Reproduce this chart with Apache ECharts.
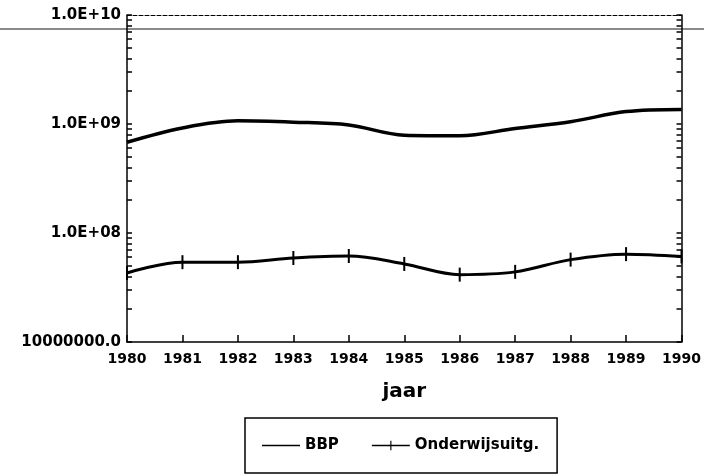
<!DOCTYPE html>
<html>
<head>
<meta charset="utf-8">
<script src="https://cdn.jsdelivr.net/npm/echarts@6/dist/echarts.min.js"></script>
<style>
html,body{margin:0;padding:0;background:#fff;}
#chart{width:704px;height:475px;}
</style>
</head>
<body>
<div id="chart"></div>
<script>
// ---- data ----
const years = [1980, 1981, 1982, 1983, 1984, 1985, 1986, 1987, 1988, 1989, 1990];
const bbp = [6.8e8, 9.2e8, 1.07e9, 1.04e9, 9.8e8, 7.9e8, 7.8e8, 9.1e8, 1.05e9, 1.30e9, 1.36e9];
const onderwijs = [4.3e7, 5.4e7, 5.4e7, 5.9e7, 6.15e7, 5.2e7, 4.15e7, 4.4e7, 5.7e7, 6.4e7, 6.1e7];
const yTickValues = [1e7, 1e8, 1e9, 1e10];
const yTickLabels = ['10000000.0', '1.0E+08', '1.0E+09', '1.0E+10'];
const seriesNames = ['BBP', 'Onderwijsuitg.'];
const xAxisTitle = 'jaar';

// minor ticks at 2..9 of every decade
const minorMult = [1, 2, 3, 4, 5, 6, 7, 8, 9];
const allTicks = [];
yTickValues.forEach((d, i) => {
  if (i < yTickValues.length - 1) minorMult.forEach(m => allTicks.push(d * m));
  else allTicks.push(d);
});

const FONT = 'DejaVu Sans';
const chart = echarts.init(document.getElementById('chart'), null, {renderer: 'canvas'});

const yBase = {
  type: 'log', logBase: 10, min: 1e7, max: 1e10,
  splitLine: {show: false},
  axisLine: {show: true, lineStyle: {color: '#000', width: 1.5}}
};

chart.setOption({
  animation: false,
  backgroundColor: '#fff',
  grid: {left: 127, right: 20, top: 15, bottom: 133, containLabel: false},
  xAxis: [{
    type: 'value', min: 1980, max: 1990, interval: 1,
    name: xAxisTitle, nameLocation: 'middle', nameGap: 40,
    nameTextStyle: {fontFamily: FONT, fontWeight: 'bold', fontSize: 20, color: '#000'},
    axisLine: {lineStyle: {color: '#000', width: 1.5}},
    axisTick: {inside: true, length: 7, lineStyle: {color: '#000', width: 1.5}},
    axisLabel: {
      margin: 10, fontFamily: FONT, fontWeight: 'bold', fontSize: 14, color: '#000',
      formatter: v => String(v)
    },
    splitLine: {show: false}
  }, {
    type: 'value', min: 1980, max: 1990, position: 'top',
    axisLine: {show: true, lineStyle: {color: '#000', width: 1, type: [4, 2]}},
    axisTick: {show: false}, axisLabel: {show: false}, splitLine: {show: false}
  }],
  yAxis: [Object.assign({}, yBase, {
    position: 'left',
    axisTick: {show: true, inside: true, length: 5, customValues: allTicks,
      lineStyle: {color: '#000', width: 1.5}},
    axisLabel: {
      show: true, margin: 6, customValues: yTickValues,
      fontFamily: FONT, fontWeight: 'bold', fontSize: 15, color: '#000',
      formatter: v => {
        const i = yTickValues.findIndex(t => Math.abs(Math.log10(t) - Math.log10(v)) < 1e-6);
        return i >= 0 ? yTickLabels[i] : '';
      }
    }
  }), Object.assign({}, yBase, {
    position: 'right',
    axisTick: {show: true, inside: true, length: 5, customValues: allTicks,
      lineStyle: {color: '#000', width: 1.5}},
    axisLabel: {show: false}
  })],
  legend: {
    left: 245, top: 418,
    orient: 'horizontal',
    padding: [20, 18, 20, 17],
    borderColor: '#000', borderWidth: 1.5,
    itemWidth: 38, itemHeight: 14, itemGap: 33,
    textStyle: {fontFamily: FONT, fontWeight: 'bold', fontSize: 15, color: '#000'},
    data: [
      {name: seriesNames[0], icon: 'path://M0 4.1H40V5.9H0Z'},
      {name: seriesNames[1], icon: 'path://M0 4.3H40V5.7H0Z M19.4 0H20.6V10H19.4Z'}
    ]
  },
  graphic: [{
    type: 'line', z: -1, silent: true,
    shape: {x1: 0, y1: 29, x2: 704, y2: 29},
    style: {stroke: '#8a8a8a', lineWidth: 2}
  }],
  series: [{
    name: seriesNames[0], type: 'line', smooth: 0.35,
    data: years.map((y, i) => [y, bbp[i]]),
    symbol: 'none',
    lineStyle: {color: '#000', width: 3.5},
    itemStyle: {color: '#000'}
  }, {
    name: seriesNames[1], type: 'line', smooth: 0.35,
    data: years.map((y, i) => [y, onderwijs[i]]),
    symbol: 'rect', symbolSize: [2, 14],
    showAllSymbol: true,
    lineStyle: {color: '#000', width: 3},
    itemStyle: {color: '#000', opacity: 1}
  }]
});
</script>
</body>
</html>
